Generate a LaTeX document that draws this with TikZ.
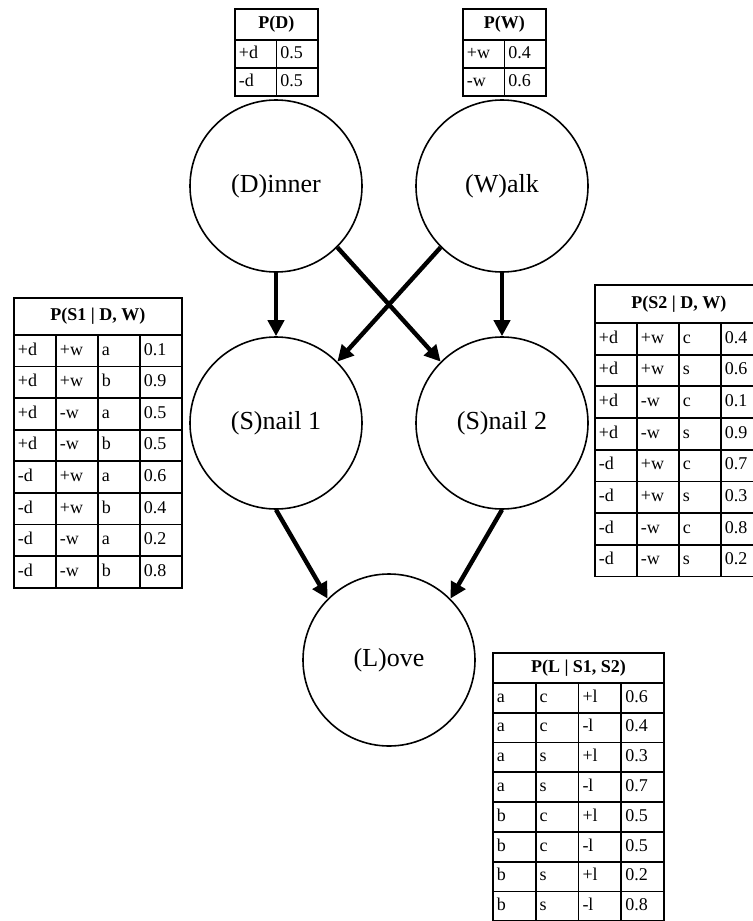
\documentclass[tikz,border=0pt]{standalone}
\usepackage{fontspec}
\setmainfont{Liberation Serif}
\usetikzlibrary{matrix,arrows.meta,calc,positioning}
\newcommand{\varfont}{\fontsize{13}{15}\selectfont}
\newcommand{\cellfont}{\fontsize{9}{10}\selectfont}
\tikzset{
    varsty/.style={draw,circle,minimum size=86pt,inner sep=0pt,line width=0.8pt,font=\varfont},
    edgesty/.style={->,line width=2.2pt},
    cellsty/.style={draw,rectangle,outer sep=0pt,inner xsep=2pt,inner ysep=0pt,line width=0.9pt,align=left,font=\cellfont,text height=6.3pt,text depth=2pt,anchor=center},
    headsty/.style={draw,rectangle,outer sep=0pt,inner sep=0pt,line width=0.9pt,font=\cellfont\bfseries,anchor=south west},
    tabsty/.style={matrix of nodes,inner sep=0pt,outer sep=0pt,column sep=-0.9pt,row sep=-0.9pt,anchor=north west,ampersand replacement=\&},
}

\begin{document}
\begin{tikzpicture}[x=0.5pt,y=-0.5pt,>={Triangle[length=8pt,width=8pt]}]
  \useasboundingbox (0,0) rectangle (752,921);

  \node[varsty] (Dinner) at (276,186) {(D)inner};
  \node[varsty] (Walk)   at (502,186) {(W)alk};
  \node[varsty] (Snail1) at (276,423) {(S)nail 1};
  \node[varsty] (Snail2) at (502,423) {(S)nail 2};
  \node[varsty] (Love)   at (389,660) {(L)ove};

  \draw[edgesty] (Dinner.south) -- (Snail1.north);
  \draw[edgesty] (Dinner.-45) -- (Snail2.135);
  \draw[edgesty] (Walk.south) -- (Snail2.north);
  \draw[edgesty] (Walk.-135) -- (Snail1.45);
  \draw[edgesty] (Snail1.south) -- (Love.135);
  \draw[edgesty] (Snail2.south) -- (Love.45);

  \matrix (PD) [tabsty, nodes={cellsty, text width=16.75pt, minimum height=14pt}] at (234,39)
  {
  +d \& 0.5 \\
  -d \& 0.5 \\
  };
  \node[headsty, minimum width=41.5pt, minimum height=15.5pt] (PDhead) at (PD-1-1.north west) {P(D)};

  \matrix (PW) [tabsty, nodes={cellsty, text width=16.75pt, minimum height=14pt}] at (462,39)
  {
  +w \& 0.4 \\
  -w \& 0.6 \\
  };
  \node[headsty, minimum width=41.5pt, minimum height=15.5pt] (PWhead) at (PW-1-1.north west) {P(W)};

  \matrix (PS1) [tabsty, nodes={cellsty, text width=17pt, minimum height=15.8pt}] at (13,334)
  {
  +d \& +w \& a \& 0.1 \\
  +d \& +w \& b \& 0.9 \\
  +d \& -w \& a \& 0.5 \\
  +d \& -w \& b \& 0.5 \\
  -d \& +w \& a \& 0.6 \\
  -d \& +w \& b \& 0.4 \\
  -d \& -w \& a \& 0.2 \\
  -d \& -w \& b \& 0.8 \\
  };
  \node[headsty, minimum width=84pt, minimum height=18.5pt] (PS1head) at (PS1-1-1.north west) {P(S1 | D, W)};

  \matrix (PS2) [tabsty, nodes={cellsty, text width=17pt, minimum height=15.85pt}] at (594,322)
  {
  +d \& +w \& c \& 0.4 \\
  +d \& +w \& s \& 0.6 \\
  +d \& -w \& c \& 0.1 \\
  +d \& -w \& s \& 0.9 \\
  -d \& +w \& c \& 0.7 \\
  -d \& +w \& s \& 0.3 \\
  -d \& -w \& c \& 0.8 \\
  -d \& -w \& s \& 0.2 \\
  };
  \node[headsty, minimum width=84pt, minimum height=19pt] (PS2head) at (PS2-1-1.north west) {P(S2 | D, W)};

  \matrix (PL) [tabsty, nodes={cellsty, text width=17.4pt, minimum height=14.9pt}] at (492,682)
  {
  a \& c \& +l \& 0.6 \\
  a \& c \& -l \& 0.4 \\
  a \& s \& +l \& 0.3 \\
  a \& s \& -l \& 0.7 \\
  b \& c \& +l \& 0.5 \\
  b \& c \& -l \& 0.5 \\
  b \& s \& +l \& 0.2 \\
  b \& s \& -l \& 0.8 \\
  };
  \node[headsty, minimum width=85.6pt, minimum height=15pt] (PLhead) at (PL-1-1.north west) {P(L | S1, S2)};
\end{tikzpicture}
\end{document}
